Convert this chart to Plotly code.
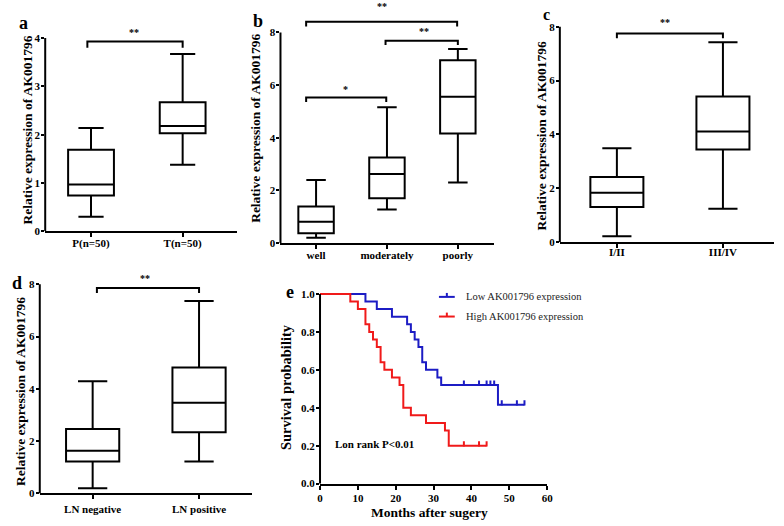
import plotly.graph_objects as go

W, H = 784, 526
SERIF = "Liberation Serif"

# ---------------- data ----------------
a_cats = ["P(n=50)", "T(n=50)"]
a_low = [0.30, 1.38]
a_q1 = [0.74, 2.03]
a_med = [0.97, 2.18]
a_q3 = [1.69, 2.67]
a_high = [2.14, 3.67]

b_cats = ["well", "moderately", "poorly"]
b_low = [0.20, 1.28, 2.30]
b_q1 = [0.37, 1.70, 4.16]
b_med = [0.81, 2.62, 5.56]
b_q3 = [1.39, 3.25, 6.94]
b_high = [2.40, 5.16, 7.37]

c_cats = ["I/II", "III/IV"]
c_low = [0.22, 1.24]
c_q1 = [1.30, 3.44]
c_med = [1.83, 4.11]
c_q3 = [2.42, 5.41]
c_high = [3.49, 7.42]

d_cats = ["LN negative", "LN positive"]
d_low = [0.20, 1.22]
d_q1 = [1.22, 2.34]
d_med = [1.63, 3.47]
d_q3 = [2.47, 4.82]
d_high = [4.29, 7.36]

low_times = [0, 12, 15, 19, 23, 24, 25, 26, 27, 28, 31, 32, 47, 54]
low_surv = [1.0, 0.96, 0.92, 0.88, 0.84, 0.80, 0.76, 0.72, 0.64, 0.60, 0.56, 0.52, 0.416, 0.416]
low_censor = [38, 42, 44, 45, 46, 48, 52, 54]
high_times = [0, 8, 10, 12, 13, 14, 15, 16, 17, 19, 21, 22, 24, 28, 33, 34, 44]
high_surv = [1.0, 0.96, 0.92, 0.84, 0.80, 0.76, 0.72, 0.64, 0.60, 0.56, 0.52, 0.40, 0.36, 0.32, 0.28, 0.20, 0.20]
high_censor = [38, 42, 44]

BLUE = "#1c1cc4"
RED = "#f01a1a"


def px(x):
    return x / W


def py(y):
    return 1 - y / H


fig = go.Figure()
annotations = []
shapes = []

panels = [
    dict(key="", cats=a_cats, q=(a_low, a_q1, a_med, a_q3, a_high), xl=42.7, xr=236.7, xrange=[-0.5, 1.593],
         y0=232.3, k=49.15, ytop=4.06, axtop=4, ytv=[0, 1, 2, 3, 4],
         brackets=[(-0.04, 1.0, 3.80, 3.93)], xlab_pad=-4),
    dict(key="2", cats=b_cats, q=(b_low, b_q1, b_med, b_q3, b_high), xl=280.7, xr=496.7, xrange=[-0.502, 2.51],
         y0=244.3, k=26.8, ytop=8.6, axtop=8, ytv=[0, 2, 4, 6, 8],
         brackets=[(-0.14, 1.99, 8.22, 8.40), (0.98, 2.0, 7.52, 7.68), (-0.14, 0.99, 5.36, 5.53)], xlab_pad=-3),
    dict(key="3", cats=c_cats, q=(c_low, c_q1, c_med, c_q3, c_high), xl=563.3, xr=780.0, xrange=[-0.538, 1.482],
         y0=243.3, k=27.4, ytop=8.1, axtop=8, ytv=[0, 2, 4, 6, 8],
         brackets=[(0.0, 1.0, 7.57, 7.75)], xlab_pad=-5),
    dict(key="4", cats=d_cats, q=(d_low, d_q1, d_med, d_q3, d_high), xl=37.2, xr=251.7, xrange=[-0.497, 1.496],
         y0=499.0, k=26.6, ytop=8.1, axtop=8, ytv=[0, 2, 4, 6, 8],
         brackets=[(0.04, 1.0, 7.67, 7.86)], xlab_pad=0),
]

axis_common = dict(showgrid=False, zeroline=False, ticks="outside", ticklen=4, tickwidth=2,
                   tickcolor="black", linecolor="black", linewidth=2)

for p in panels:
    k = p["key"]
    xa = "x" + k
    ya = "y" + k
    low, q1, med, q3, high = p["q"]
    n = len(p["cats"])
    fig.add_trace(go.Box(
        x=list(range(n)), q1=q1, median=med, q3=q3, lowerfence=low, upperfence=high,
        width=0.5, whiskerwidth=0.55, boxpoints=False,
        line=dict(color="black", width=2), fillcolor="white",
        xaxis=xa, yaxis=ya, showlegend=False, hoverinfo="skip"))
    for (x1, x2, ylo, yhi) in p["brackets"]:
        fig.add_trace(go.Scatter(x=[x1, x1, x2, x2], y=[ylo, yhi, yhi, ylo], mode="lines",
                                 line=dict(color="black", width=2), xaxis=xa, yaxis=ya,
                                 showlegend=False, hoverinfo="skip"))
    top_px = p["y0"] - p["ytop"] * p["k"]
    fig.update_layout(**{
        ("xaxis" + k): dict(axis_common, domain=[px(p["xl"]), px(p["xr"])], range=p["xrange"],
                            anchor=ya, showline=True, tickvals=list(range(n)), ticktext=p["cats"],
                            ticklabelstandoff=p["xlab_pad"],
                            tickfont=dict(family=SERIF, size=11, color="black", weight="bold")),
        ("yaxis" + k): dict(axis_common, domain=[py(p["y0"]), py(top_px)], range=[0, p["ytop"]],
                            anchor=xa, showline=False, tickvals=p["ytv"], ticklen=3, ticklabelstandoff=-1,
                            tickfont=dict(family=SERIF, size=11, color="black", weight="bold")),
    })
    shapes.append(dict(type="line", xref=xa + " domain", yref=ya, x0=0, x1=0, y0=0, y1=p["axtop"],
                       line=dict(color="black", width=2)))


# ---------------- panel e: Kaplan-Meier ----------------
def surv_at(t, times, surv):
    s = surv[0]
    for tt, ss in zip(times, surv):
        if tt <= t:
            s = ss
    return s


for times, surv, cens, col in [(low_times, low_surv, low_censor, BLUE),
                               (high_times, high_surv, high_censor, RED)]:
    fig.add_trace(go.Scatter(x=times, y=surv, mode="lines", line=dict(color=col, width=2, shape="hv"),
                             xaxis="x5", yaxis="y5", showlegend=False, hoverinfo="skip"))
    cx, cy = [], []
    for t in cens:
        s = surv_at(t, times, surv)
        cx += [t, t, None]
        cy += [s - 0.004, s + 0.024, None]
    fig.add_trace(go.Scatter(x=cx, y=cy, mode="lines", line=dict(color=col, width=2),
                             xaxis="x5", yaxis="y5", showlegend=False, hoverinfo="skip"))

e_y0, e_k, e_top = 489.0, 193.0, 1.04
fig.update_layout(
    xaxis5=dict(axis_common, domain=[px(320.7), px(550.5)], range=[0, 60], anchor="y5", showline=True,
                tickvals=[0, 10, 20, 30, 40, 50, 60], ticklabelstandoff=-1,
                tickfont=dict(family=SERIF, size=11, color="black", weight="bold")),
    yaxis5=dict(axis_common, domain=[py(e_y0), py(e_y0 - e_top * e_k)], range=[0, e_top], anchor="x5",
                showline=False, tickvals=[0, 0.2, 0.4, 0.6, 0.8, 1.0], ticklen=3,
                ticktext=["0.0", "0.2", "0.4", "0.6", "0.8", "1.0"], ticklabelstandoff=-1,
                tickfont=dict(family=SERIF, size=11, color="black", weight="bold")),
)
shapes.append(dict(type="line", xref="x5 domain", yref="y5", x0=0, x1=0, y0=0, y1=1.0,
                   line=dict(color="black", width=2)))


# ---------------- text ----------------
def txt(x, y, s, size, bold=True, angle=0, xanchor="center", color="black"):
    annotations.append(dict(x=px(x), y=py(y), xref="paper", yref="paper", text=s, showarrow=False,
                            textangle=angle, xanchor=xanchor, yanchor="middle",
                            font=dict(family=SERIF, size=size, color=color,
                                      weight="bold" if bold else "normal")))


# panel letters
txt(21, 20, "a", 18)
txt(257.5, 18, "b", 18)
txt(550, 12, "c", 16)
txt(14, 285, "d", 18)
txt(290, 294, "e", 18)

# y titles
ytitle = "Relative expression of AK001796"
txt(25, 129, ytitle, 13.5, angle=-90)
txt(256, 128, ytitle, 13.5, angle=-90)
txt(545, 135, ytitle, 13.5, angle=-90)
txt(17, 395, ytitle, 13.5, angle=-90)
txt(287, 391, "Survival probability", 14.5, angle=-90)
txt(431, 518, "Months after sugery", 13.5)

# significance stars
txt(133, 30, "**", 10)
txt(383, 4, "**", 10)
txt(425.7, 29, "**", 10)
txt(346.7, 88, "*", 10)
txt(670, 20, "**", 10)
txt(144, 280, "**", 10)

# legend (manual)
for yy, label, col in [(299, "Low AK001796 expression", BLUE), (319, "High AK001796 expression", RED)]:
    shapes.append(dict(type="line", xref="paper", yref="paper", x0=px(441), x1=px(457), y0=py(yy), y1=py(yy),
                       line=dict(color=col, width=2)))
    shapes.append(dict(type="line", xref="paper", yref="paper", x0=px(449), x1=px(449), y0=py(yy), y1=py(yy - 4),
                       line=dict(color=col, width=2)))
    txt(466, yy, label, 10.5, bold=False, xanchor="left", color="#222222")

txt(376, 449, "Lon rank P&lt;0.01", 11)

fig.update_layout(
    width=W, height=H, margin=dict(l=0, r=0, t=0, b=0),
    paper_bgcolor="white", plot_bgcolor="white",
    showlegend=False, annotations=annotations, shapes=shapes,
)

fig.write_html("out.html", config={"displayModeBar": False},
               post_script="document.body.style.margin='0';document.body.style.overflow='hidden';")
